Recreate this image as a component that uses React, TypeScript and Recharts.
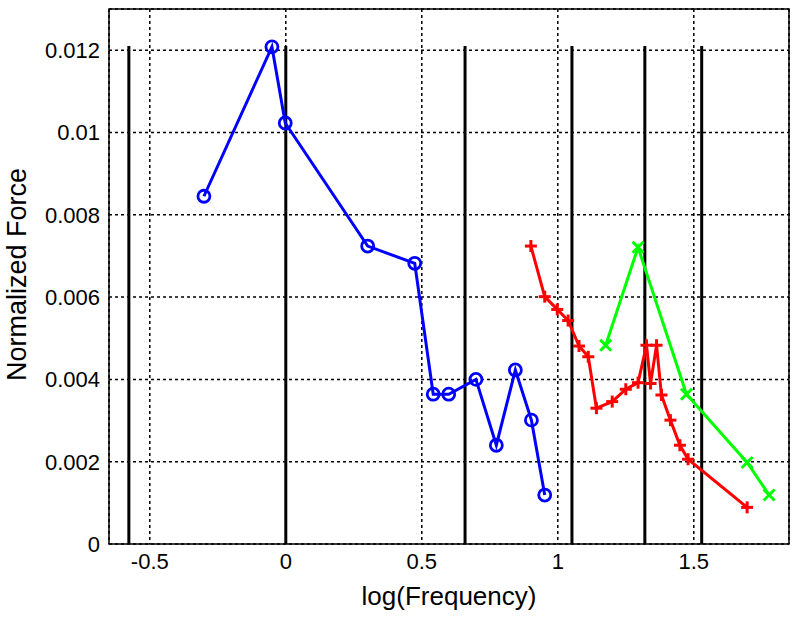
import React from 'react';
import {
  LineChart,
  Line,
  XAxis,
  YAxis,
  CartesianGrid,
  ReferenceLine,
  ReferenceArea,
  Label,
} from 'recharts';

// log(Frequency) vs normalized force, three runs
const blueX = [-0.301, -0.051, -0.002, 0.301, 0.474, 0.542, 0.599, 0.699, 0.774, 0.844, 0.903, 0.952];
const blueY = [0.00845, 0.01208, 0.01023, 0.00724, 0.00682, 0.00364, 0.00364, 0.004, 0.0024, 0.00423, 0.00301, 0.00119];

const redX = [0.901, 0.952, 0.998, 1.038, 1.078, 1.112, 1.142, 1.2, 1.25, 1.295, 1.326, 1.341, 1.363, 1.381, 1.414, 1.449, 1.479, 1.696];
const redY = [0.00724, 0.00601, 0.0057, 0.00543, 0.00481, 0.00455, 0.0033, 0.00346, 0.00376, 0.00392, 0.00483, 0.0039, 0.00483, 0.00362, 0.00301, 0.0024, 0.00206, 0.00089];

const greenX = [1.176, 1.295, 1.473, 1.696, 1.777];
const greenY = [0.00483, 0.00721, 0.00364, 0.00198, 0.00119];

// solid black markers
const markerX = [-0.577, 0, 0.659, 1.052, 1.32, 1.529];
const markerTop = 0.0121;

const xTicks = [-0.5, 0, 0.5, 1, 1.5];
const yTicks = [0, 0.002, 0.004, 0.006, 0.008, 0.01, 0.012];
const xDomain = [-0.65, 1.85];
const yDomain = [0, 0.013];

const toPoints = (xs: number[], ys: number[]) => xs.map((x, i) => ({ x, y: ys[i] }));

const blueData = toPoints(blueX, blueY);
const redData = toPoints(redX, redY);
const greenData = toPoints(greenX, greenY);

const FONT = '"Liberation Sans", Arial, Helvetica, sans-serif';

const CircleDot = (props: any) => {
  const { cx, cy, index } = props;
  return <circle key={`c-${index}`} cx={cx} cy={cy} r={6} fill="none" stroke="#0000ff" strokeWidth={2.8} />;
};

const PlusDot = (props: any) => {
  const { cx, cy, index } = props;
  const s = 6;
  return (
    <g key={`p-${index}`}>
      <line x1={cx - s} y1={cy} x2={cx + s} y2={cy} stroke="#ff0000" strokeWidth={3} />
      <line x1={cx} y1={cy - s} x2={cx} y2={cy + s} stroke="#ff0000" strokeWidth={3} />
    </g>
  );
};

const CrossDot = (props: any) => {
  const { cx, cy, index } = props;
  const s = 5.5;
  return (
    <g key={`x-${index}`}>
      <line x1={cx - s} y1={cy - s} x2={cx + s} y2={cy + s} stroke="#00ff00" strokeWidth={3} />
      <line x1={cx - s} y1={cy + s} x2={cx + s} y2={cy - s} stroke="#00ff00" strokeWidth={3} />
    </g>
  );
};

const XTitle = ({ viewBox }: any) => (
  <text
    x={viewBox.x + viewBox.width / 2}
    y={viewBox.y + 61}
    textAnchor="middle"
    fontFamily={FONT}
    fontSize={26}
    fill="#000"
  >
    log(Frequency)
  </text>
);

const YTitle = ({ viewBox }: any) => {
  const x = 26;
  const y = viewBox.y + viewBox.height / 2 - 2;
  return (
    <text
      x={x}
      y={y}
      transform={`rotate(-90, ${x}, ${y})`}
      textAnchor="middle"
      fontFamily={FONT}
      fontSize={27}
      fill="#000"
    >
      Normalized Force
    </text>
  );
};

export default function App() {
  return (
    <div style={{ position: 'absolute', left: 0, top: 0, width: 800, height: 621, background: '#fff' }}>
      <LineChart width={800} height={621} margin={{ top: 9, right: 11, bottom: 0, left: 0 }}>
        <CartesianGrid stroke="#000" strokeDasharray="3 3" strokeWidth={1.5} />
        <XAxis
          dataKey="x"
          type="number"
          domain={xDomain}
          ticks={xTicks}
          allowDataOverflow
          height={77}
          axisLine={false}
          tickLine={false}
          tickSize={6}
          tickMargin={3}
          tick={{ fill: '#000', fontSize: 22, fontFamily: FONT }}
          tickFormatter={(v: number) => String(v)}
        >
          <Label content={XTitle} />
        </XAxis>
        <YAxis
          dataKey="y"
          type="number"
          domain={yDomain}
          ticks={yTicks}
          allowDataOverflow
          width={109}
          axisLine={false}
          tickLine={false}
          tickSize={6}
          tickMargin={3}
          tick={{ fill: '#000', fontSize: 22, fontFamily: FONT }}
          tickFormatter={(v: number) => String(v)}
        >
          <Label content={YTitle} />
        </YAxis>
        <ReferenceArea
          x1={xDomain[0]}
          x2={xDomain[1]}
          y1={yDomain[0]}
          y2={yDomain[1]}
          fill="none"
          stroke="#000"
          strokeWidth={1.5}
          ifOverflow="visible"
        />
        {markerX.map((x) => (
          <ReferenceLine
            key={`m-${x}`}
            segment={[{ x, y: 0 }, { x, y: markerTop }]}
            stroke="#000"
            strokeWidth={3}
            ifOverflow="visible"
          />
        ))}
        <Line
          data={blueData}
          dataKey="y"
          stroke="#0000ff"
          strokeWidth={3}
          dot={CircleDot}
          activeDot={false}
          isAnimationActive={false}
        />
        <Line
          data={redData}
          dataKey="y"
          stroke="#ff0000"
          strokeWidth={3}
          dot={PlusDot}
          activeDot={false}
          isAnimationActive={false}
        />
        <Line
          data={greenData}
          dataKey="y"
          stroke="#00ff00"
          strokeWidth={3}
          dot={CrossDot}
          activeDot={false}
          isAnimationActive={false}
        />
      </LineChart>
    </div>
  );
}
